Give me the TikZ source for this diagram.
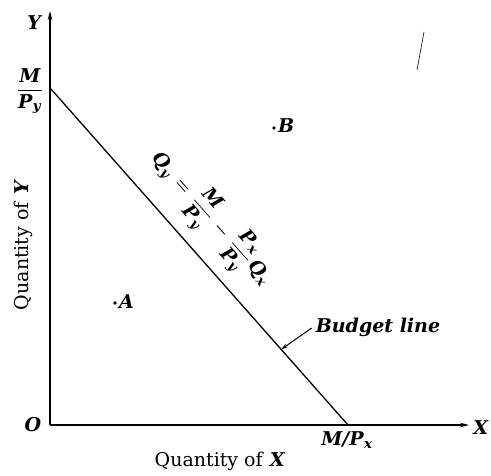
\documentclass[tikz,border=0pt]{standalone}
\usepackage{amsmath}
\usepackage{fontspec}
\setmainfont{DejaVu Serif}
\usetikzlibrary{arrows.meta,calc}
\newcommand\bi[1]{\textbf{\textit{#1}}}
\begin{document}
\begin{tikzpicture}[x=1pt,y=-1pt,
  font=\fontsize{19}{23}\selectfont\boldmath,
  axis/.style={line width=1.2pt,-{Stealth[length=9pt,width=4.5pt]}},
  bline/.style={line width=1.3pt},
  ptr/.style={line width=1pt,-{Stealth[length=7pt,width=4pt]}},
  dotpt/.style={circle,fill=black,inner sep=0pt,minimum size=3.6pt},
  lbl/.style={inner sep=1pt}]
\useasboundingbox[fill=white] (0,0) rectangle (491,475);
% axes
\coordinate (O) at (50,425);
\coordinate (Ytip) at (50,11);
\coordinate (Xtip) at (469,425);
\draw[axis] (O) -- (Ytip);
\draw[axis] (O) -- (Xtip);
% budget line
\coordinate (My) at (51,89);
\coordinate (Mx) at (348,425);
\draw[bline] (My) -- (Mx);
% labels
\node[lbl] (ylab) at (35,23) {\bi{Y}};
\node[lbl] (xlab) at (481,428) {\bi{X}};
\node[lbl] (olab) at (33,425) {\bi{O}};
\node[lbl] (yint) at (30,91) {$\displaystyle\frac{\bi{M}}{\bi{P}_{\bi{y}}}$};
\node[lbl] (xint) at (347,440) {\bi{M/P}$_{\bi{x}}$};
\node[lbl] (qx) at (220,461) {Quantity of \bi{X}};
\node[lbl,rotate=90] (qy) at (23,245) {Quantity of \bi{Y}};
% points
\node[dotpt] (pa) at (115,303) {};
\node[lbl,anchor=west] (alab) at (118,302) {\bi{A}};
\node[dotpt] (pb) at (274,128) {};
\node[lbl,anchor=west] (blab) at (277,126) {\bi{B}};
% equation
\node[lbl,rotate=-48.5] (eq) at (211,219) {$\bi{Q}_{\bi{y}}\,=\,\displaystyle\frac{\bi{M}}{\bi{P}_{\bi{y}}}\,-\,\frac{\bi{P}_{\bi{x}}}{\bi{P}_{\bi{y}}}\,\bi{Q}_{\bi{x}}$};
% budget line label
\node[lbl] (bl) at (378,327) {\bi{Budget line}};
\coordinate (blpt) at ($(My)!0.775!(Mx)$);
\draw[ptr] ($(bl.west)+(-3,1)$) coordinate (blstart) -- (blpt);
% stray mark
\draw[line width=0.6pt] (424,32) -- (417,70);
\end{tikzpicture}
\end{document}
